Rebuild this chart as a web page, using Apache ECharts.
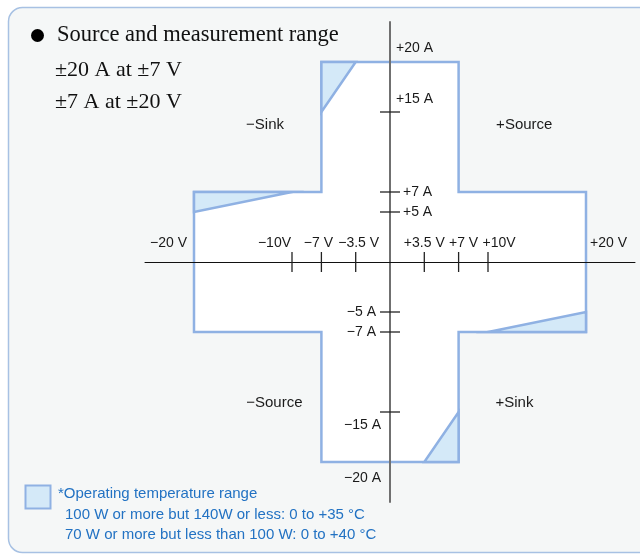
<!DOCTYPE html>
<html><head><meta charset="utf-8">
<script src="https://cdn.jsdelivr.net/npm/echarts@6/dist/echarts.min.js"></script>
<style>html,body{margin:0;padding:0;background:#fff}#c{width:640px;height:554px}</style>
</head><body><div id="c"></div>
<script>
// ---- Data (volts, amperes) ----
const outlineV = [-7, 7, 7, 20, 20, 7, 7, -7, -7, -20, -20, -7];
const outlineA = [20, 20, 7, 7, -7, -7, -20, -20, -7, -7, 7, 7];
// operating-temperature-limited regions
const triTopLeftV = [-7, -3.5, -7];     const triTopLeftA = [20, 20, 15];
const triLeftV = [-20, -10, -20];       const triLeftA = [7, 7, 5];
const triRightV = [20, 10, 20];         const triRightA = [-7, -7, -5];
const triBottomRightV = [7, 3.5, 7];    const triBottomRightA = [-20, -20, -15];

const xTickValues = [-10, -7, -3.5, 3.5, 7, 10];
const xLabelValues = [-20, -10, -7, -3.5, 3.5, 7, 10, 20];
const xLabelTexts = ['−20 V', '−10V', '−7 V', '−3.5 V', '+3.5 V', '+7 V', '+10V', '+20 V'];
const yTickValues = [15, 7, 5, -5, -7, -15];
const yLabelValues = [20, 15, 7, 5, -5, -7, -15, -20];
const yLabelTexts = ['+20 A', '+15 A', '+7 A', '+5 A', '−5 A', '−7 A', '−15 A', '−20 A'];
const quadrantTexts = ['−Sink', '+Source', '−Source', '+Sink'];
const quadrantV = [-12.75, 13.7, -11.8, 12.7];
const quadrantA = [13.7, 13.7, -14.1, -14.1];
const titleLines = ['Source and measurement range', '±20 A at ±7 V', '±7 A at ±20 V'];
const noteLines = ['*Operating temperature range', '100 W or more but 140W or less: 0 to +35 °C', '70 W or more but less than 100 W: 0 to +40 °C'];

// ---- Styles (pixel offsets for labels) ----
const xLabelStyle = [
  ['right', -7], ['right', -1], ['center', -3], ['center', 3],
  ['center', 0], ['center', 5], ['center', 11], ['left', 4]
];
const yLabelStyle = [
  ['left', 6, -14], ['left', 6, -13], ['left', 13, 0], ['left', 13, 0],
  ['right', -14, 0], ['right', -14, 0], ['right', -9, 13], ['right', -9, 16]
];
const BLUE = '#8fb1e3', LIGHT = '#d4e9f8', TXT = '#1a1a1a', NOTE = '#2272c3';
const SANS = '"Liberation Sans", Arial, sans-serif';
const SERIF = '"Liberation Serif", "Times New Roman", serif';

function zip(a, b) { return a.map((v, i) => [v, b[i]]); }

function polySeries(vs, as, fill, z) {
  const pts = zip(vs, as);
  return {
    type: 'custom', z: z, silent: true, data: pts,
    renderItem: function (params, api) {
      if (params.dataIndex !== 0) return;
      return {
        type: 'polygon',
        shape: { points: pts.map(p => api.coord(p)) },
        style: { fill: fill, stroke: BLUE, lineWidth: 2.5, lineJoin: 'miter' }
      };
    }
  };
}

const chart = echarts.init(document.getElementById('c'), null, { renderer: 'canvas' });
chart.setOption({
  animation: false,
  grid: { left: 145, width: 490, top: 22, height: 480 },
  xAxis: {
    type: 'value', min: -25, max: 25, z: 10,
    axisLine: { onZero: true, lineStyle: { color: '#111', width: 1 } },
    axisTick: { show: false }, axisLabel: { show: false }, splitLine: { show: false }
  },
  yAxis: {
    type: 'value', min: -24, max: 24, z: 10,
    axisLine: { onZero: true, lineStyle: { color: '#707070', width: 2 } },
    axisTick: { show: false }, axisLabel: { show: false }, splitLine: { show: false }
  },
  graphic: [
    { type: 'rect', z: -10, shape: { x: 8.5, y: 7.5, width: 700, height: 545, r: 14 },
      style: { fill: '#f5f7f7', stroke: '#a7c1e3', lineWidth: 1.5 } },
    { type: 'circle', shape: { cx: 37.5, cy: 35.5, r: 6.5 }, style: { fill: '#000' } },
    { type: 'text', x: 57, y: 35, style: { text: titleLines[0], font: '22.5px ' + SERIF, fill: '#111', verticalAlign: 'middle' } },
    { type: 'text', x: 55, y: 70, style: { text: titleLines[1], font: '22px ' + SERIF, fill: '#111', verticalAlign: 'middle' } },
    { type: 'text', x: 55, y: 102, style: { text: titleLines[2], font: '22px ' + SERIF, fill: '#111', verticalAlign: 'middle' } },
    { type: 'rect', shape: { x: 25.5, y: 485.5, width: 25, height: 23 },
      style: { fill: LIGHT, stroke: BLUE, lineWidth: 2 } },
    { type: 'text', x: 58, y: 494, style: { text: noteLines[0], font: '15px ' + SANS, fill: NOTE, verticalAlign: 'middle' } },
    { type: 'text', x: 65, y: 515, style: { text: noteLines[1], font: '15px ' + SANS, fill: NOTE, verticalAlign: 'middle' } },
    { type: 'text', x: 65, y: 535, style: { text: noteLines[2], font: '15px ' + SANS, fill: NOTE, verticalAlign: 'middle' } }
  ],
  series: [
    polySeries(outlineV, outlineA, '#ffffff', 2),
    polySeries(triTopLeftV, triTopLeftA, LIGHT, 3),
    polySeries(triLeftV, triLeftA, LIGHT, 3),
    polySeries(triRightV, triRightA, LIGHT, 3),
    polySeries(triBottomRightV, triBottomRightA, LIGHT, 3),
    { // x ticks
      type: 'custom', z: 11, silent: true, data: xTickValues.map(v => [v, 0]),
      renderItem: function (params, api) {
        const p = api.coord([api.value(0), api.value(1)]);
        return { type: 'line', shape: { x1: p[0], y1: p[1] - 10, x2: p[0], y2: p[1] + 10 },
          style: { stroke: '#222', lineWidth: 1.3 } };
      }
    },
    { // y ticks
      type: 'custom', z: 11, silent: true, data: yTickValues.map(v => [0, v]),
      renderItem: function (params, api) {
        const p = api.coord([api.value(0), api.value(1)]);
        return { type: 'line', shape: { x1: p[0] - 10, y1: p[1], x2: p[0] + 10, y2: p[1] },
          style: { stroke: '#222', lineWidth: 1.3 } };
      }
    },
    { // x labels
      type: 'custom', z: 12, silent: true, data: xLabelValues.map(v => [v, 0]),
      renderItem: function (params, api) {
        const i = params.dataIndex, p = api.coord([api.value(0), api.value(1)]);
        return { type: 'text', x: p[0] + xLabelStyle[i][1], y: p[1] - 19,
          style: { text: xLabelTexts[i], font: '14px ' + SANS, fill: TXT, align: xLabelStyle[i][0], verticalAlign: 'middle' } };
      }
    },
    { // y labels
      type: 'custom', z: 12, silent: true, data: yLabelValues.map(v => [0, v]),
      renderItem: function (params, api) {
        const i = params.dataIndex, p = api.coord([api.value(0), api.value(1)]);
        return { type: 'text', x: p[0] + yLabelStyle[i][1], y: p[1] + yLabelStyle[i][2],
          style: { text: yLabelTexts[i], font: '14px ' + SANS, fill: TXT, align: yLabelStyle[i][0], verticalAlign: 'middle' } };
      }
    },
    { // quadrant labels
      type: 'custom', z: 12, silent: true, data: zip(quadrantV, quadrantA),
      renderItem: function (params, api) {
        const i = params.dataIndex, p = api.coord([api.value(0), api.value(1)]);
        return { type: 'text', x: p[0], y: p[1],
          style: { text: quadrantTexts[i], font: '15px ' + SANS, fill: TXT, align: 'center', verticalAlign: 'middle' } };
      }
    }
  ]
});
</script></body></html>
